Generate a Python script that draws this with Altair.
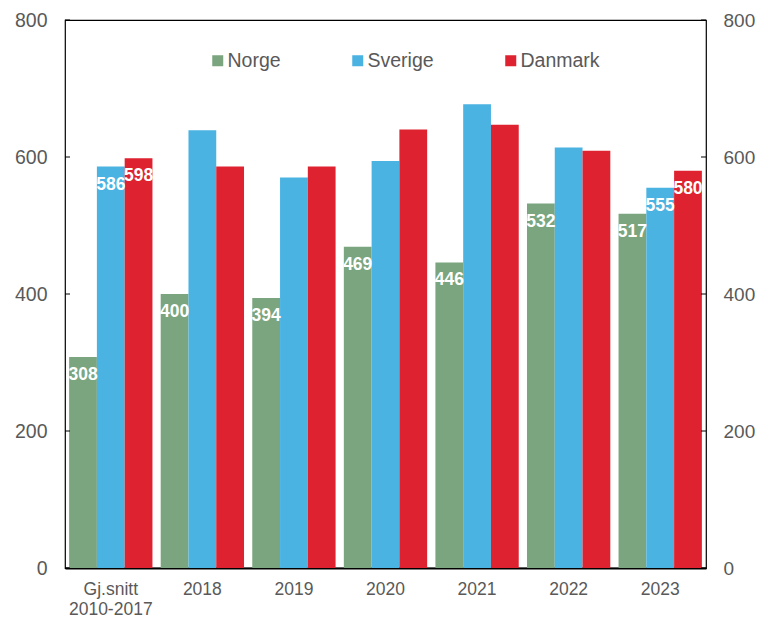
import altair as alt
import pandas as pd

groups = ["Gj.snitt\n2010-2017", "2018", "2019", "2020", "2021", "2022", "2023"]
countries = ["Norge", "Sverige", "Danmark"]
colors = ["#7AA57E", "#4AB3E2", "#DE222F"]

norge = [308, 400, 394, 469, 446, 532, 517]
sverige = [586, 639, 570, 594, 677, 614, 555]
danmark = [598, 586, 586, 640, 647, 609, 580]

show_norge = [True, True, True, True, True, True, True]
show_sverige = [True, False, False, False, False, False, True]
show_danmark = [True, False, False, False, False, False, True]

y_ticks = [0, 200, 400, 600, 800]

rows = []
for country, vals, shows in [("Norge", norge, show_norge),
                             ("Sverige", sverige, show_sverige),
                             ("Danmark", danmark, show_danmark)]:
    for g, v, s in zip(groups, vals, shows):
        rows.append({"group": g, "country": country, "value": v,
                     "label": str(v) if s else ""})
df = pd.DataFrame(rows)
ticks_df = pd.DataFrame({"t": y_ticks})

W = 641
H = 548
GREY = "#595959"

yscale = alt.Scale(domain=[0, 800], nice=False, zero=True)
xenc = alt.X("group:N", sort=groups,
             scale=alt.Scale(paddingInner=0.09, paddingOuter=0.045),
             axis=alt.Axis(title=None, labelAngle=0, ticks=False,
                           domainColor="black", domainWidth=2,
                           labelFontSize=17.5, labelColor=GREY,
                           labelPadding=12, labelLineHeight=20,
                           labelBaseline="top",
                           labelExpr="split(datum.label, '\\n')"))
xoff = alt.XOffset("country:N", sort=countries, scale=alt.Scale(paddingInner=0, paddingOuter=0))

left_axis = alt.Axis(title=None, values=y_ticks, orient="left", tickSize=0,
                     domain=False, grid=False, labelFontSize=19.5,
                     labelColor=GREY, labelPadding=18)
right_axis = alt.Axis(title=None, values=y_ticks, orient="right", tickSize=0,
                      domain=False, grid=False, labelFontSize=19,
                      labelColor=GREY, labelPadding=17)

bars = alt.Chart(df).mark_bar().encode(
    x=xenc,
    xOffset=xoff,
    y=alt.Y("value:Q", scale=yscale, axis=left_axis),
    color=alt.Color("country:N", sort=countries,
                    scale=alt.Scale(domain=countries, range=colors),
                    legend=alt.Legend(title=None, orient="none",
                                      legendX=143, legendY=31,
                                      direction="horizontal", columns=3,
                                      gridAlign="none",
                                      columnPadding=67, padding=0,
                                      symbolType="square", symbolSize=121,
                                      symbolStrokeWidth=0, labelOffset=0,
                                      labelFontSize=19.5, labelColor=GREY)),
)

texts = alt.Chart(df).mark_text(color="white", fontWeight="bold", fontSize=17.5,
                                baseline="middle", dy=18).encode(
    x=xenc,
    xOffset=xoff,
    y=alt.Y("value:Q", scale=yscale, axis=None),
    text="label:N",
)

left_ticks = alt.Chart(ticks_df).mark_rule(color="black", strokeWidth=1).encode(
    y=alt.Y("t:Q", scale=yscale, axis=None),
    x=alt.value(0), x2=alt.value(5),
)

right_ticks = alt.Chart(ticks_df).mark_rule(color="black", strokeWidth=1).encode(
    y=alt.Y("t:Q", scale=yscale, axis=right_axis),
    x=alt.value(W - 5), x2=alt.value(W),
)

chart = alt.layer(bars, texts, left_ticks, right_ticks).resolve_scale(
    y="shared"
).resolve_axis(
    y="independent"
).properties(
    width=W, height=H,
    autosize=alt.AutoSizeParams(type="none"),
    padding={"left": 57, "top": 12, "right": 49, "bottom": 49},
).configure(
    font="Liberation Sans",
).configure_view(
    stroke="black", strokeWidth=1.2,
)

chart.save("out.html", embed_options={"renderer": "svg", "actions": False})
